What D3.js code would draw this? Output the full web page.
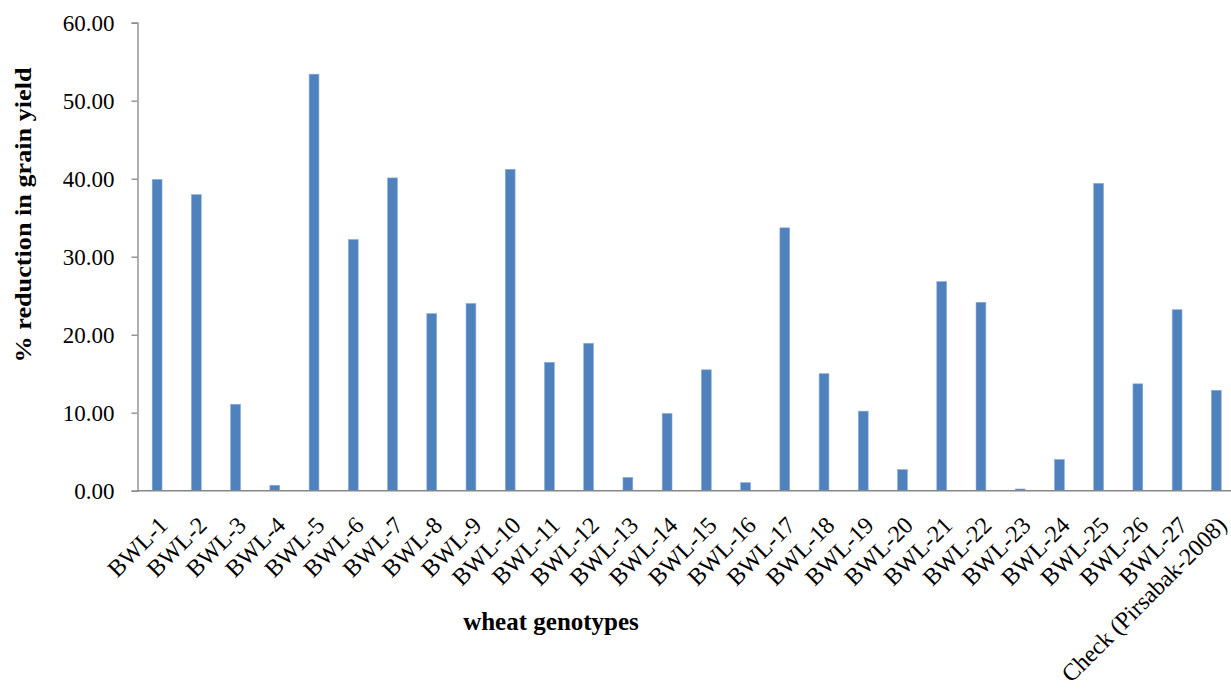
<!DOCTYPE html>
<html>
<head>
<meta charset="utf-8">
<script src="https://cdn.jsdelivr.net/npm/d3@7"></script>
<style>
  body { margin: 0; background: #fff; }
  svg text { font-family: "Liberation Serif", "Times New Roman", serif; }
</style>
</head>
<body>
<div id="chart"></div>
<script>
// data
const genotypes = ["BWL-1","BWL-2","BWL-3","BWL-4","BWL-5","BWL-6","BWL-7","BWL-8","BWL-9","BWL-10",
  "BWL-11","BWL-12","BWL-13","BWL-14","BWL-15","BWL-16","BWL-17","BWL-18","BWL-19","BWL-20",
  "BWL-21","BWL-22","BWL-23","BWL-24","BWL-25","BWL-26","BWL-27","Check (Pirsabak-2008)"];
const reduction = [39.9, 37.95, 11.08, 0.69, 53.4, 32.2, 40.1, 22.7, 24.0, 41.2,
  16.46, 18.9, 1.7, 9.9, 15.5, 1.03, 33.7, 15.0, 10.2, 2.7,
  26.8, 24.15, 0.22, 4.0, 39.4, 13.7, 23.2, 12.87];
const yTicks = [0, 10, 20, 30, 40, 50, 60];

const width = 1231, height = 696;
const margin = {top: 22.7, left: 137.5, bottom: 490.7};

const svg = d3.select("#chart")
  .append("svg")
    .attr("width", width)
    .attr("height", height);

// scales
const x = d3.scaleBand()
  .domain(genotypes)
  .range([margin.left, margin.left + 28 * 39.23])
  .paddingInner(0.75)
  .paddingOuter(0.375);

const y = d3.scaleLinear()
  .domain([0, 60])
  .range([margin.bottom, margin.top]);

// y axis
const yAxis = svg.append("g")
  .attr("transform", `translate(${margin.left},0)`)
  .call(d3.axisLeft(y).tickValues(yTicks).tickFormat(d3.format(".2f")).tickSize(6).tickPadding(17))
  .attr("font-family", null)
  .attr("font-size", null);
yAxis.select(".domain").attr("stroke", "#868686").attr("stroke-width", 1.3);
yAxis.selectAll(".tick line").attr("stroke", "#868686").attr("stroke-width", 1.3);
yAxis.selectAll(".tick text")
  .attr("fill", "#000")
  .style("font-size", "23px");

// bars
svg.append("g")
  .selectAll("rect")
  .data(genotypes)
  .join("rect")
    .attr("x", d => x(d))
    .attr("width", x.bandwidth())
    .attr("y", (d, i) => y(reduction[i]))
    .attr("height", (d, i) => y(0) - y(reduction[i]))
    .attr("fill", "#4F81BD")
    .attr("stroke", "#8AAAD6")
    .attr("stroke-width", 0.6);

// x axis baseline
svg.append("line")
  .attr("x1", margin.left)
  .attr("x2", width)
  .attr("y1", y(0))
  .attr("y2", y(0))
  .attr("stroke", "#868686")
  .attr("stroke-width", 1.6);

// x labels, rotated
svg.append("g")
  .selectAll("text")
  .data(genotypes)
  .join("text")
    .attr("transform", d => `translate(${x(d) + x.bandwidth() / 2 + 6},${y(0) + 30}) rotate(-45)`)
    .attr("text-anchor", "end")
    .attr("dy", "0.35em")
    .style("font-size", "24px")
    .attr("fill", "#000")
    .text(d => d);

// axis titles
svg.append("text")
  .attr("transform", `translate(31,215) rotate(-90)`)
  .attr("text-anchor", "middle")
  .style("font-size", "24px")
  .attr("font-weight", "bold")
  .attr("textLength", 295)
  .attr("lengthAdjust", "spacingAndGlyphs")
  .text("% reduction in grain yield");

svg.append("text")
  .attr("x", 551)
  .attr("y", 630)
  .attr("text-anchor", "middle")
  .style("font-size", "25px")
  .attr("font-weight", "bold")
  .text("wheat genotypes");
</script>
</body>
</html>
